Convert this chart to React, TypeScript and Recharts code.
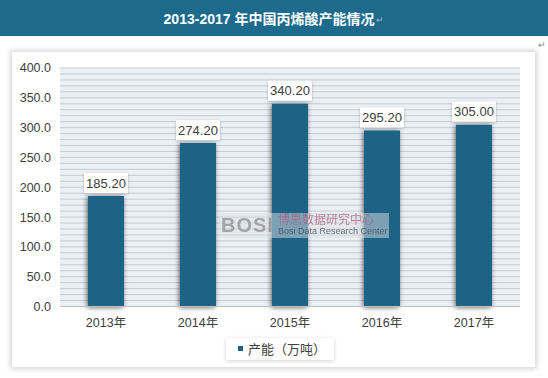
import React from "react";
import {
  BarChart, Bar, XAxis, YAxis, CartesianGrid, LabelList, Legend,
} from "recharts";

// 2013-2017 中国丙烯酸产能（万吨）
const YEARS = ["2013年", "2014年", "2015年", "2016年", "2017年"];
const CAPACITY = [185.2, 274.2, 340.2, 295.2, 305.0];
const Y_TICKS = [0, 50, 100, 150, 200, 250, 300, 350, 400];
const STRIPES = [0, 10, 20, 30, 40, 50, 60, 70, 80, 90, 100, 110, 120, 130, 140, 150, 160, 170, 180, 190, 200, 210, 220, 230, 240, 250, 260, 270, 280, 290, 300, 310, 320, 330, 340, 350, 360, 370, 380, 390, 400];
const Y_MAX = 400;

const TITLE = "2013-2017 年中国丙烯酸产能情况";
const SERIES = "产能（万吨）";

const data = YEARS.map((year, i) => ({ year, value: CAPACITY[i] }));

const BAR = "#1b6385";
const FONT = "'Liberation Sans', 'Noto Sans CJK SC', sans-serif";

/** white box with the value above each bar */
function ValueLabel(props: any) {
  const { x, y, width, value } = props;
  const cx = Number(x) + Number(width) / 2;
  const top = Number(y) - 23;
  return (
    <g>
      <rect x={cx - 22} y={top} width={44} height={20} fill="#fff" filter="url(#boxShadow)" />
      <text x={cx} y={top + 10} textAnchor="middle" dominantBaseline="central"
        fontSize={13} fill="#404040" fontFamily={FONT}>
        {Number(value).toFixed(2)}
      </text>
    </g>
  );
}

function LegendBox() {
  return (
    <div style={{
      display: "inline-flex", alignItems: "center", background: "#fff",
      boxShadow: "0 1px 4px rgba(0,0,0,0.18)", padding: "0 8px 0 12px",
      fontFamily: FONT, fontSize: 13, color: "#404040", height: 22,
    }}>
      <span style={{ width: 5, height: 5, background: BAR, marginRight: 5, display: "inline-block" }} />
      {SERIES}
    </div>
  );
}

// stripe lines every 10 units, placed inside the plot offset
function stripeCoords({ yAxis, offset }: any) {
  if (yAxis && typeof yAxis.scale === "function") return STRIPES.map((v) => yAxis.scale(v));
  return STRIPES.map((v) => offset.top + offset.height * (1 - v / Y_MAX));
}

export default function App() {
  return (
    <div style={{ position: "absolute", left: 0, top: 0, width: 548, height: 378, background: "#fff", overflow: "hidden" }}>
      {/* title bar */}
      <div style={{
        position: "absolute", left: 0, top: 0, width: 548, height: 36, background: "#1d6a8c",
        color: "#fff", fontFamily: FONT, fontWeight: 700, fontSize: 14,
        display: "flex", alignItems: "center", justifyContent: "center",
      }}>
        <span style={{ marginRight: 4 }}>{TITLE}</span>
        <span style={{ color: "#9fb7c6", fontSize: 9, fontWeight: 400, marginLeft: -2, marginTop: 4 }}>↵</span>
      </div>
      <div style={{ position: "absolute", left: 538, top: 40, fontSize: 9, color: "#888" }}>↵</div>

      {/* panel */}
      <div style={{
        position: "absolute", left: 12, top: 52, width: 523, height: 315, background: "#fff",
        boxShadow: "0 0 5px 2px rgba(0,0,0,0.16)",
      }} />

      <div style={{ position: "absolute", left: 0, top: 0 }}>
        <BarChart width={548} height={378} data={data}
          margin={{ top: 68, right: 28, bottom: 19, left: 0 }} barSize={36}>
          <defs>
            <filter id="barShadow" x="-40%" y="-10%" width="180%" height="120%">
              <feDropShadow dx="-1" dy="1" stdDeviation="2.4" floodColor="#000" floodOpacity="0.6" />
            </filter>
            <filter id="boxShadow" x="-20%" y="-30%" width="140%" height="160%">
              <feDropShadow dx="0" dy="1" stdDeviation="1.5" floodColor="#000" floodOpacity="0.25" />
            </filter>
          </defs>
          <CartesianGrid vertical={false} horizontalCoordinatesGenerator={stripeCoords}
            stroke="#c3cbd3" strokeWidth={1} fill="#eaf0f5" />
          <XAxis dataKey="year" tickLine={false} axisLine={{ stroke: "#bfbfbf" }}
            tick={{ fontSize: 12.5, fill: "#404040", fontFamily: FONT }} tickMargin={6} height={30} />
          <YAxis domain={[0, Y_MAX]} ticks={Y_TICKS} width={60} axisLine={false} tickLine={false}
            tickFormatter={(v: number) => v.toFixed(1)}
            tick={{ fontSize: 12.5, fill: "#404040", fontFamily: FONT }} tickMargin={3} />
          <Bar dataKey="value" name={SERIES} fill={BAR} isAnimationActive={false}
            filter="url(#barShadow)">
            <LabelList dataKey="value" content={ValueLabel} />
          </Bar>
          <Legend verticalAlign="bottom" content={() => <LegendBox />}
            wrapperStyle={{ position: "absolute", left: 226, top: 337, bottom: "auto", width: "auto" }} />
        </BarChart>
      </div>

      {/* watermark */}
      <div style={{ position: "absolute", left: 219, top: 213, display: "flex", alignItems: "center", fontFamily: FONT, pointerEvents: "none", background: "rgba(220,224,230,0.5)", padding: "1px 2px" }}>
        <span style={{ fontSize: 20, fontWeight: 700, color: "#8a8a8a", letterSpacing: 1, opacity: 0.7 }}>BOSI</span>
        <div style={{ marginLeft: 4, lineHeight: 1.05, opacity: 0.75 }}>
          <div style={{ fontSize: 12, color: "#b06080" }}>博思数据研究中心</div>
          <div style={{ fontSize: 9, color: "#445" }}>Bosi Data Research Center</div>
        </div>
      </div>
    </div>
  );
}
